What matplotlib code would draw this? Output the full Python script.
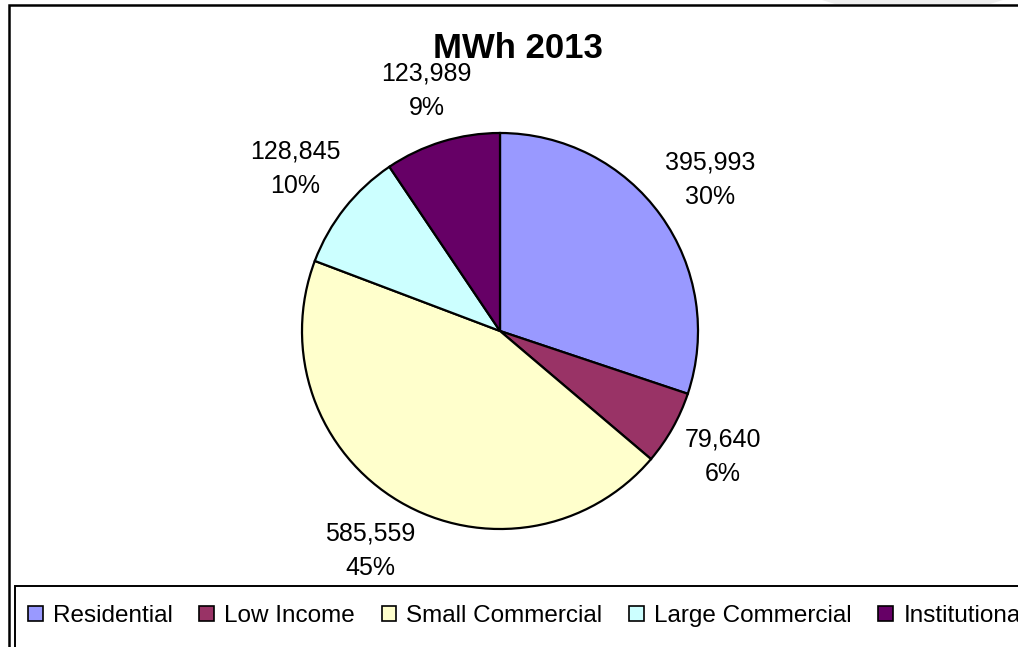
import matplotlib
matplotlib.use("Agg")
import numpy as np
import matplotlib.pyplot as plt
from matplotlib.patches import Rectangle, Patch, Polygon

plt.rcParams['font.family'] = ['Liberation Sans', 'DejaVu Sans']

W, H = 1018, 647

title = "MWh 2013"
categories = ["Residential", "Low Income", "Small Commercial", "Large Commercial", "Institutional"]
values = [395993, 79640, 585559, 128845, 123989]
colors = ["#9999FF", "#993366", "#FFFFCC", "#CCFFFF", "#660066"]

total = sum(values)
labels = [f"{v:,}\n{round(v / total * 100)}%" for v in values]
label_dist = [1.31, 1.29, 1.29, 1.32, 1.27]  # styling: label offset per slice

fig = plt.figure(figsize=(W / 100, H / 100), dpi=100)
fig.patch.set_facecolor("white")

# light gray shadow strip at top right
fig.add_artist(Polygon([(822 / W, 1), (1003 / W, 1), (990 / W, (H - 4) / H), (835 / W, (H - 4) / H)],
                       closed=True, transform=fig.transFigure, facecolor="#EEEEEE", edgecolor="none"))

ax = fig.add_axes([0, 0, 1, 1])
cx, cy, r = 500, H - 331, 198
wedges, texts = ax.pie(values, colors=colors, labels=labels, startangle=90, counterclock=False,
                       center=(cx, cy), radius=r, labeldistance=1.3,
                       wedgeprops=dict(edgecolor="black", linewidth=1.6),
                       textprops=dict(fontsize=18, color="black", linespacing=1.55))
for w, t, d in zip(wedges, texts, label_dist):
    ang = np.deg2rad((w.theta1 + w.theta2) / 2)
    t.set_position((cx + d * r * np.cos(ang), cy + d * r * np.sin(ang)))
    t.set_ha("center")
    t.set_va("center")
ax.set_xlim(0, W)
ax.set_ylim(0, H)
ax.set_aspect("equal")
ax.axis("off")

ax.text(518, H - 48, title, ha="center", va="center", fontsize=25, fontweight="bold")

# chart frame
fig.add_artist(Rectangle((8.5 / W, -0.1), 1.2, (H - 4.5) / H + 0.1, transform=fig.transFigure,
                         fill=False, edgecolor="black", linewidth=1.8))
# legend frame
fig.add_artist(Rectangle((15 / W, -0.1), 1.2, (H - 586) / H + 0.1, transform=fig.transFigure,
                         fill=False, edgecolor="black", linewidth=1.4))

handles = [Patch(facecolor=c, edgecolor="black", linewidth=1.2) for c in colors]
fig.legend(handles, categories, ncol=5, loc="center left",
           bbox_to_anchor=(28 / W, (H - 616) / H), frameon=False, fontsize=17.5,
           handlelength=0.6, handleheight=0.6, handletextpad=0.42, columnspacing=1.1,
           borderpad=0, borderaxespad=0)

fig.savefig("out.png", dpi=100)
